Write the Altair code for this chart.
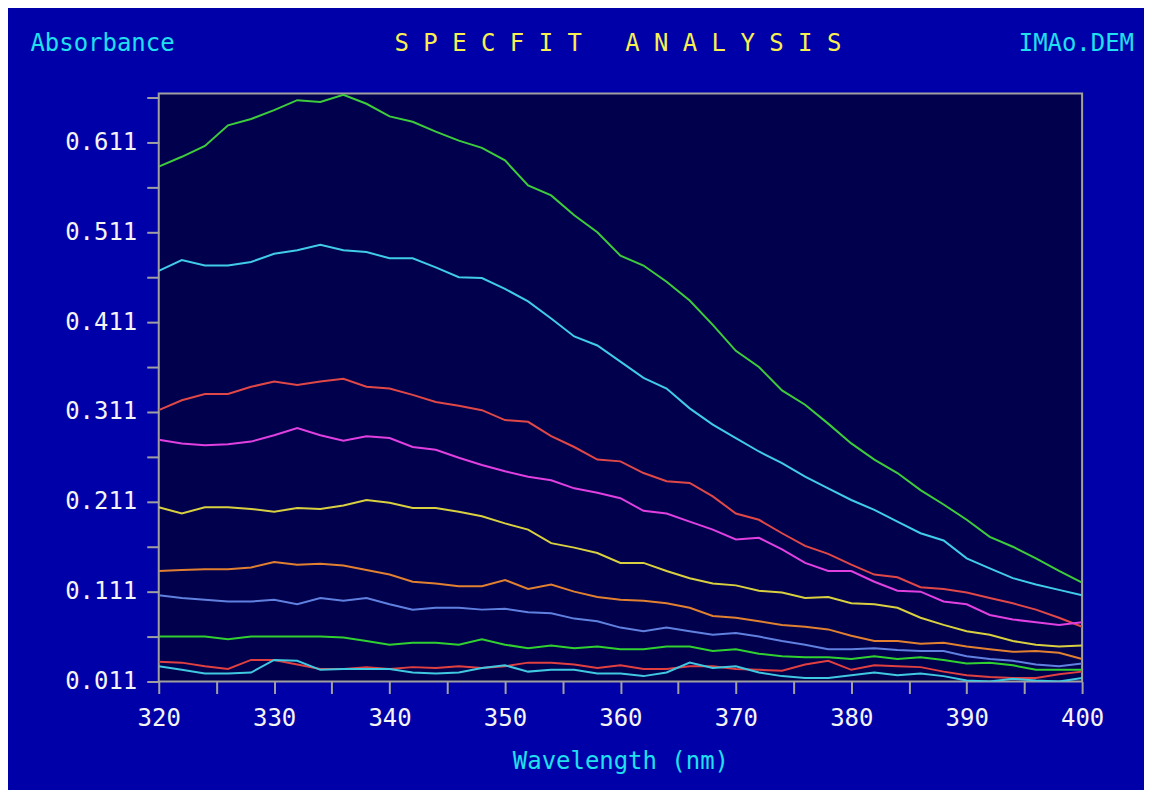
import altair as alt
import pandas as pd

wavelength = list(range(320, 401, 2))

green_top = [0.584, 0.595, 0.607, 0.630, 0.637, 0.647, 0.658, 0.656, 0.664, 0.654, 0.640, 0.634, 0.623, 0.613,
             0.605, 0.591, 0.563, 0.552, 0.530, 0.511, 0.485, 0.474, 0.456, 0.435, 0.408, 0.379, 0.361, 0.335,
             0.319, 0.298, 0.276, 0.258, 0.243, 0.224, 0.208, 0.191, 0.172, 0.161, 0.148, 0.134, 0.121]
cyan_top = [0.468, 0.480, 0.474, 0.474, 0.478, 0.487, 0.491, 0.497, 0.491, 0.489, 0.482, 0.482, 0.472, 0.461,
            0.460, 0.448, 0.434, 0.415, 0.395, 0.385, 0.367, 0.349, 0.337, 0.315, 0.297, 0.282, 0.267, 0.254,
            0.239, 0.226, 0.213, 0.202, 0.189, 0.176, 0.168, 0.148, 0.137, 0.126, 0.119, 0.113, 0.107]
red_mid = [0.313, 0.324, 0.331, 0.331, 0.339, 0.345, 0.341, 0.345, 0.348, 0.339, 0.337, 0.330, 0.322, 0.318,
           0.313, 0.302, 0.300, 0.284, 0.272, 0.258, 0.256, 0.243, 0.234, 0.232, 0.217, 0.198, 0.191, 0.176,
           0.162, 0.153, 0.141, 0.130, 0.127, 0.116, 0.114, 0.110, 0.104, 0.098, 0.091, 0.082, 0.072]
magenta = [0.280, 0.276, 0.274, 0.275, 0.278, 0.285, 0.293, 0.285, 0.279, 0.284, 0.282, 0.272, 0.269, 0.260,
           0.252, 0.245, 0.239, 0.235, 0.226, 0.221, 0.215, 0.201, 0.198, 0.189, 0.180, 0.169, 0.171, 0.158,
           0.143, 0.134, 0.134, 0.122, 0.112, 0.111, 0.100, 0.097, 0.085, 0.080, 0.077, 0.074, 0.077]
yellow = [0.205, 0.198, 0.205, 0.205, 0.203, 0.200, 0.204, 0.203, 0.207, 0.213, 0.210, 0.204, 0.204, 0.200,
          0.195, 0.187, 0.180, 0.165, 0.160, 0.154, 0.143, 0.143, 0.134, 0.126, 0.120, 0.118, 0.112, 0.110,
          0.104, 0.105, 0.098, 0.097, 0.093, 0.082, 0.074, 0.067, 0.063, 0.056, 0.052, 0.050, 0.051]
orange = [0.134, 0.135, 0.136, 0.136, 0.138, 0.144, 0.141, 0.142, 0.140, 0.135, 0.130, 0.122, 0.120, 0.117,
          0.117, 0.124, 0.114, 0.119, 0.111, 0.105, 0.102, 0.101, 0.098, 0.093, 0.084, 0.082, 0.078, 0.074,
          0.072, 0.069, 0.062, 0.056, 0.056, 0.053, 0.054, 0.050, 0.047, 0.044, 0.045, 0.043, 0.036]
blue = [0.107, 0.104, 0.102, 0.100, 0.100, 0.102, 0.097, 0.104, 0.101, 0.104, 0.097, 0.091, 0.093, 0.093,
        0.091, 0.092, 0.088, 0.087, 0.081, 0.078, 0.071, 0.067, 0.071, 0.067, 0.063, 0.065, 0.061, 0.056,
        0.052, 0.047, 0.047, 0.048, 0.046, 0.045, 0.045, 0.039, 0.036, 0.034, 0.030, 0.028, 0.031]
green_low = [0.061, 0.061, 0.061, 0.058, 0.061, 0.061, 0.061, 0.061, 0.060, 0.056, 0.052, 0.054, 0.054, 0.052,
             0.058, 0.052, 0.048, 0.051, 0.048, 0.050, 0.047, 0.047, 0.050, 0.050, 0.045, 0.047, 0.042, 0.039,
             0.038, 0.038, 0.036, 0.039, 0.036, 0.038, 0.035, 0.031, 0.032, 0.029, 0.024, 0.024, 0.024]
red_low = [0.033, 0.032, 0.028, 0.025, 0.035, 0.035, 0.030, 0.025, 0.025, 0.027, 0.025, 0.027, 0.026, 0.028,
           0.026, 0.028, 0.032, 0.032, 0.030, 0.026, 0.029, 0.025, 0.025, 0.028, 0.028, 0.025, 0.024, 0.023,
           0.030, 0.034, 0.024, 0.029, 0.028, 0.027, 0.022, 0.018, 0.016, 0.015, 0.015, 0.019, 0.022]
cyan_low = [0.028, 0.024, 0.020, 0.020, 0.021, 0.035, 0.034, 0.024, 0.025, 0.025, 0.025, 0.021, 0.020, 0.021,
            0.026, 0.029, 0.022, 0.024, 0.024, 0.020, 0.020, 0.017, 0.021, 0.032, 0.026, 0.028, 0.021, 0.017,
            0.015, 0.015, 0.018, 0.021, 0.018, 0.020, 0.017, 0.012, 0.011, 0.014, 0.012, 0.011, 0.015]

series_names = ["S1", "S2", "S3", "S4", "S5", "S6", "S7", "S8", "S9", "S10"]
series_values = [green_top, cyan_top, red_mid, magenta, yellow, orange, blue, green_low, red_low, cyan_low]
series_colors = ["#3CCC3C", "#40CCE8", "#E04848", "#E040E0", "#D8D040",
                 "#E08030", "#6080E0", "#30D030", "#E04040", "#40C8E0"]

y_ticks = [0.011, 0.061, 0.111, 0.161, 0.211, 0.261, 0.311, 0.361, 0.411, 0.461, 0.511, 0.561, 0.611, 0.661]
x_ticks = list(range(320, 401, 5))

title_str = "\u00a0".join("SPECFIT") + "\u00a0\u00a0\u00a0" + "\u00a0".join("ANALYSIS")
file_str = "IMAo.DEM"

rows = []
for name, vals in zip(series_names, series_values):
    for w, v in zip(wavelength, vals):
        rows.append({"wavelength": w, "absorbance": v, "series": name, "order": series_names.index(name)})
df = pd.DataFrame(rows)

FONT = "DejaVu Sans Mono"
GRAY = "#A0A0A0"
FS = 24

lines = alt.Chart(df).mark_line(strokeWidth=2, clip=True).encode(
    x=alt.X("wavelength:Q",
            scale=alt.Scale(domain=[320, 400], nice=False, zero=False),
            axis=alt.Axis(values=x_ticks, format="d",
                          labelExpr="datum.value % 10 == 0 ? datum.label : ''",
                          title="Wavelength (nm)", titleColor="#20E0F0", titleFont=FONT,
                          titleFontSize=FS, titleFontWeight="normal", titleY=80,
                          titleBaseline="middle",
                          labelColor="#F4F4F4", labelFont=FONT, labelFontSize=FS,
                          labelPadding=13, tickColor=GRAY, tickWidth=2, tickSize=12,
                          domain=False, grid=False, labelFlush=False)),
    y=alt.Y("absorbance:Q",
            scale=alt.Scale(domain=[0.011, 0.6654], nice=False, zero=False),
            axis=alt.Axis(values=y_ticks, format=".3f",
                          labelExpr="round((datum.value - 0.011) * 1000) % 100 == 0 ? datum.label : ''",
                          title="Absorbance", titleColor="#20E0F0", titleFont=FONT,
                          titleFontSize=FS, titleFontWeight="normal", titleAngle=0,
                          titleX=-129, titleY=-50, titleAlign="left", titleBaseline="middle",
                          labelColor="#F4F4F4", labelFont=FONT, labelFontSize=FS,
                          labelPadding=10, tickColor=GRAY, tickWidth=2, tickSize=12,
                          domain=False, grid=False, labelFlush=False)),
    color=alt.Color("series:N", scale=alt.Scale(domain=series_names, range=series_colors), legend=None),
    order=alt.Order("order:Q"),
    detail="series:N",
)

title_df = pd.DataFrame({"t": [title_str]})
title_text = alt.Chart(title_df).mark_text(
    font=FONT, fontSize=FS, color="#F8F050", align="center", baseline="middle"
).encode(text="t:N", x=alt.value(460), y=alt.value(-50))

file_df = pd.DataFrame({"t": [file_str]})
file_text = alt.Chart(file_df).mark_text(
    font=FONT, fontSize=FS, color="#20E0F0", align="right", baseline="middle"
).encode(text="t:N", x=alt.value(977), y=alt.value(-50))

chart = alt.layer(lines, title_text, file_text).properties(
    width=925, height=589,
    background="#0000A8",
    padding={"left": 151, "top": 85, "right": 62, "bottom": 108},
    autosize=alt.AutoSizeParams(type="none"),
).configure_view(
    fill="#00004C", stroke=GRAY, strokeWidth=2
)

chart.save("out.html", embed_options={"renderer": "svg", "actions": False})
